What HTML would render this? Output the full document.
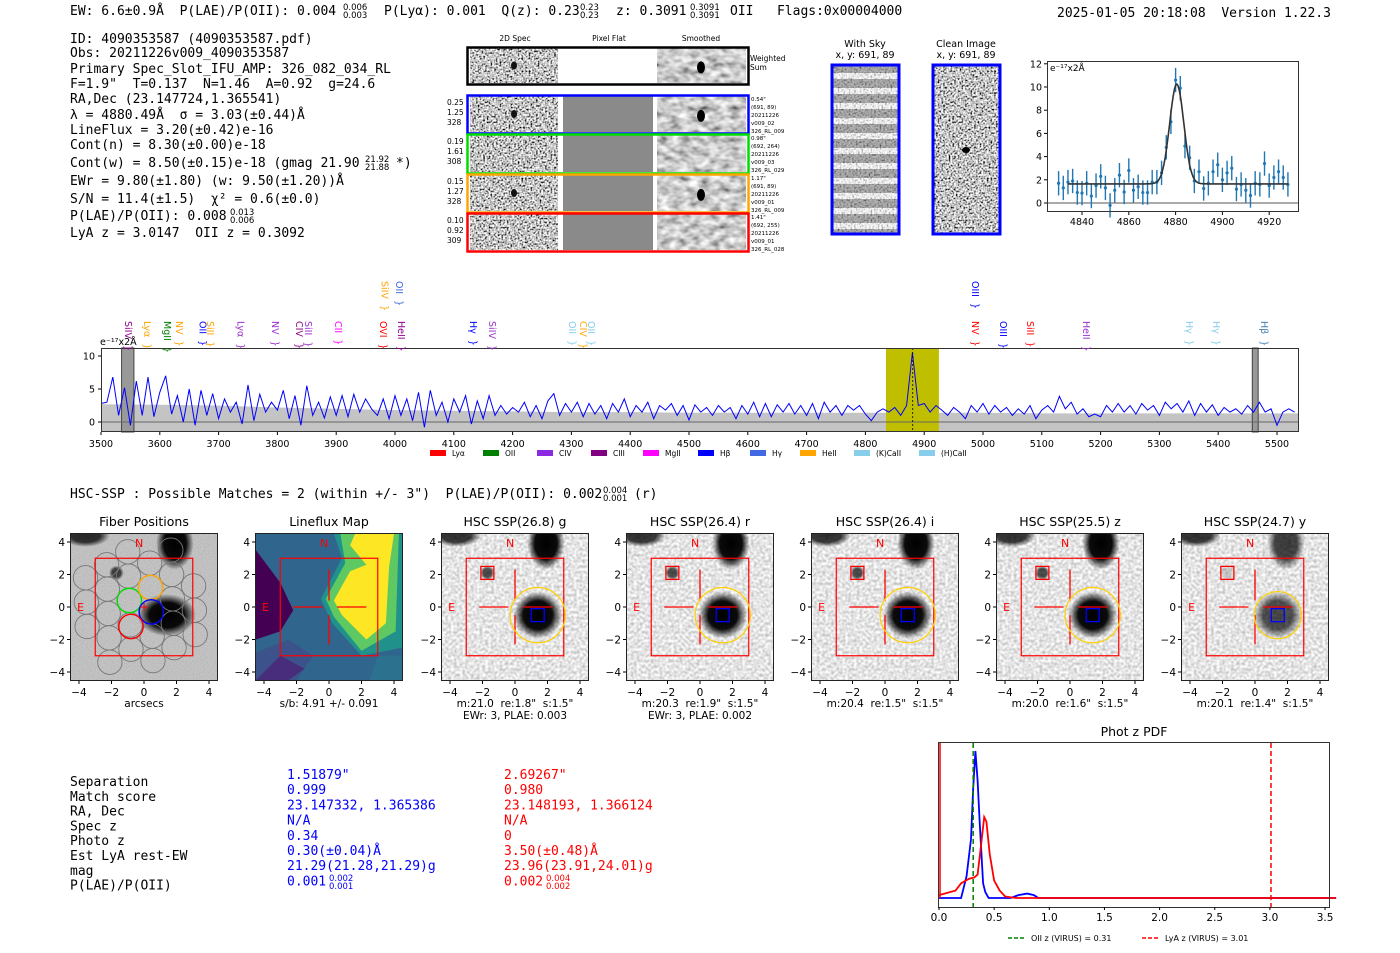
<!DOCTYPE html>
<html><head><meta charset="utf-8"><style>
html,body{margin:0;padding:0;background:#fff;width:1400px;height:953px;overflow:hidden}
svg{display:block}
text{white-space:pre}
.m{font-family:"DejaVu Sans Mono","Liberation Mono",monospace}
.s{font-family:"DejaVu Sans","Liberation Sans",sans-serif}
</style></head><body>
<svg id="root" width="1400" height="953" viewBox="0 0 1400 953" xmlns="http://www.w3.org/2000/svg" xml:space="preserve">
<defs>
<filter id="nz" x="0" y="0" width="100%" height="100%"><feTurbulence type="fractalNoise" baseFrequency="0.55" numOctaves="1" seed="4"/><feColorMatrix type="matrix" values="2.6 0 0 0 -0.75  2.6 0 0 0 -0.75  2.6 0 0 0 -0.75  0 0 0 0 1"/></filter>
<filter id="nzs" x="0" y="0" width="100%" height="100%"><feTurbulence type="fractalNoise" baseFrequency="0.1 0.16" numOctaves="2" seed="7"/><feColorMatrix type="matrix" values="1.3 0 0 0 -0.05  1.3 0 0 0 -0.05  1.3 0 0 0 -0.05  0 0 0 0 1"/></filter>
<filter id="nzl" x="0" y="0" width="100%" height="100%"><feTurbulence type="fractalNoise" baseFrequency="0.35" numOctaves="1" seed="11"/><feColorMatrix type="matrix" values="0.9 0 0 0 0.33  0.9 0 0 0 0.33  0.9 0 0 0 0.33  0 0 0 0 1"/></filter>
<filter id="nzf" x="0" y="0" width="100%" height="100%"><feTurbulence type="fractalNoise" baseFrequency="0.9" numOctaves="1" seed="2"/><feColorMatrix type="matrix" values="0.25 0 0 0 0.4  0.25 0 0 0 0.4  0.25 0 0 0 0.4  0 0 0 0 1"/></filter>
<radialGradient id="blob"><stop offset="0" stop-color="#000"/><stop offset="0.6" stop-color="#000" stop-opacity="0.95"/><stop offset="1" stop-color="#000" stop-opacity="0"/></radialGradient>
<pattern id="stripes" width="10" height="15" patternUnits="userSpaceOnUse"><rect width="10" height="15" fill="#fff"/><rect y="4" width="10" height="9" fill="#444" opacity="0.6"/></pattern>
</defs>
<g id="g"></g>
</svg>
<script>
// ---------------- DATA ----------------
const specWaveStart = 3500;
const specWaveStep = 10;
const specFlux = [2.8,3.0,6.8,1.0,5.2,-0.5,6.2,1.0,6.8,0.8,4.5,7.0,1.2,4.0,0.0,5.0,-0.5,4.8,1.0,4.3,0.5,3.5,1.5,3.0,-0.3,5.6,0.2,4.2,1.5,3.0,1.8,4.8,0.5,4.0,-0.5,5.5,1.0,3.0,0.6,3.8,1.0,4.0,0.8,4.2,1.5,3.5,2.0,1.0,3.5,0.5,4.0,1.0,3.5,0.2,4.5,-0.8,4.8,1.0,3.0,0.0,3.5,1.5,4.0,-0.3,3.2,0.5,4.0,1.0,2.5,1.2,2.2,1.5,3.0,0.8,2.5,0.5,3.2,4.3,1.0,2.8,1.5,3.0,0.8,2.8,1.2,2.5,0.5,2.8,1.5,3.5,0.8,2.5,1.5,3.0,0.5,2.5,1.8,2.8,1.0,2.5,0.3,2.6,1.5,2.2,1.0,2.5,1.5,2.2,0.5,2.5,1.2,3.0,0.8,2.8,0.8,2.6,1.5,2.8,1.2,2.5,1.0,2.8,0.5,3.0,1.5,2.5,1.0,2.5,1.8,2.5,1.2,0.2,1.5,2.0,1.5,2.2,1.0,2.5,10.5,2.5,2.8,1.5,2.5,1.8,1.0,2.2,1.5,0.5,2.5,1.5,2.8,1.2,2.5,1.5,2.2,1.0,2.0,1.2,2.5,0.5,1.8,2.5,1.5,3.9,2.0,3.0,1.2,2.0,0.8,1.2,0.8,2.5,1.5,2.8,1.5,2.5,1.2,2.8,1.8,2.5,1.0,3.0,2.0,2.8,1.5,3.2,1.0,2.8,1.5,2.6,1.0,2.2,1.5,2.0,1.2,2.5,1.5,3.0,1.5,2.0,-0.5,1.5,2.0,1.5];
const errWave = [3500,3600,3700,3800,3900,4000,4100,4200,4300,4400,4500,4600,4700,4800,4900,5000,5100,5200,5300,5400,5500,5537];
const errUpper = [2.7,2.6,2.5,2.2,2.0,1.8,1.7,1.6,1.5,1.5,1.4,1.4,1.4,1.4,1.4,1.4,1.3,1.3,1.3,1.3,1.3,1.3];
const specXTicks = [3500,3600,3700,3800,3900,4000,4100,4200,4300,4400,4500,4600,4700,4800,4900,5000,5100,5200,5300,5400,5500];
const specYTicks = [0,5,10];
const lineLabels = [["SiIV",3546,"#8b008b",0],["Lyα",3578,"#ffa500",0],["MgII",3612,"#008000",0],["NV",3633,"#ffa500",0],["OII",3673,"#0000ff",0],["SiII",3685,"#ffa500",0],["Lyα",3737,"#9932cc",0],["NV",3796,"#9932cc",0],["CIV",3837,"#8b008b",0],["SiII",3852,"#9932cc",0],["CII",3903,"#ff00ff",0],["OVI",3980,"#ff0000",0],["SiIV",3982,"#ffa500",1],["HeII",4010,"#8b008b",0],["OII",4007,"#4169e1",1],["Hγ",4133,"#0000ff",0],["SiIV",4165,"#9932cc",0],["OII",4301,"#87ceeb",0],["CIV",4320,"#ffa500",0],["OII",4333,"#87ceeb",0],["OIII",4986,"#0000ff",1],["NV",4986,"#ff0000",0],["OIII",5034,"#0000ff",0],["SiII",5080,"#ff0000",0],["HeII",5175,"#9932cc",0],["Hγ",5350,"#87ceeb",0],["Hγ",5396,"#87ceeb",0],["Hβ",5478,"#4682b4",0]];
const legendNames = ["Lyα","OII","CIV","CIII","MgII","Hβ","Hγ","HeII","(K)CaII","(H)CaII"];
const legendColors = ["#ff0000","#008000","#8a2be2","#800080","#ff00ff","#0000ff","#4169e1","#ffa500","#87ceeb","#87ceeb"];
const zoomWave = [4830,4832,4834,4836,4838,4840,4842,4844,4846,4848,4850,4852,4854,4856,4858,4860,4862,4864,4866,4868,4870,4872,4874,4876,4878,4880,4882,4884,4886,4888,4890,4892,4894,4896,4898,4900,4902,4904,4906,4908,4910,4912,4914,4916,4918,4920,4922,4924,4926,4928];
const zoomFlux = [1.7,1.3,1.8,1.9,0.9,0.85,1.7,0.6,1.5,2.3,1.3,-0.2,1.1,2.4,0.95,2.8,1.1,1.4,0.9,0.9,1.8,1.8,2.6,4.8,7.0,10.6,9.9,4.9,3.9,1.9,2.7,1.25,1.7,2.7,3.3,2.0,2.6,3.0,1.2,1.6,1.1,0.65,1.7,1.6,3.4,1.5,2.2,2.7,2.2,1.6];
const zoomErr = 1.05;
const fitCont = 1.65, fitAmp = 8.6, fitMu = 4880.49, fitSigma = 3.03;
const zoomXTicks = [4840,4860,4880,4900,4920];
const zoomYTicks = [0,2,4,6,8,10,12];
const pdfZBlue = [0,0.2,0.25,0.29,0.31,0.33,0.35,0.37,0.4,0.42,0.45,0.5,0.65,0.72,0.8,0.86,0.9,3.6];
const pdfPBlue = [0,0,0.15,0.4,0.75,1.0,0.8,0.5,0.1,0.04,0.0,0,0,0.02,0.03,0.02,0,0];
const pdfZRed = [0,0.05,0.15,0.2,0.27,0.32,0.35,0.38,0.41,0.43,0.46,0.5,0.55,0.6,0.7,3.6];
const pdfPRed = [0.02,0.03,0.05,0.1,0.13,0.14,0.16,0.35,0.55,0.52,0.3,0.12,0.05,0.01,0.0,0.0];
const pdfXTicks = [0.0,0.5,1.0,1.5,2.0,2.5,3.0,3.5];
const zOII = 0.31, zLyA = 3.01;

// ---------------- helpers ----------------
const NS="http://www.w3.org/2000/svg";
const G=document.getElementById('g');
function mk(tag,attrs,parent){const e=document.createElementNS(NS,tag);for(const k in attrs)e.setAttribute(k,attrs[k]);(parent||G).appendChild(e);return e;}
function tx(x,y,str,size,cls,fill,anchor,parent){const e=mk('text',{x:x,y:y,'font-size':size,class:cls,fill:fill||'#000','text-anchor':anchor||'start'},parent);e.textContent=str;return e;}
function frac(x,y,hi,lo,size,fill,parent){const a=tx(x,y-5,hi,size,'s',fill,'start',parent);const b=tx(x,y+3,lo,size,'s',fill,'start',parent);}
let el;

// ---------------- header ----------------
el=tx(70,15,"EW: 6.6±0.9Å  P(LAE)/P(OII): 0.004",13,'m');


frac(343,15,"0.006","0.003",8.5);
el=tx(384,15,"P(Lyα): 0.001  Q(z): 0.23",13,'m');


frac(580,15,"0.23","0.23",8.5);
el=tx(616,15,"z: 0.3091",13,'m');


frac(690,15,"0.3091","0.3091",8.5);
el=tx(730,15,"OII   Flags:0x00004000",13,'m');


el=tx(1057,17,"2025-01-05 20:18:08  Version 1.22.3",13,'m');



const infoLines=[["ID: 4090353587 (4090353587.pdf)",43],["Obs: 20211226v009_4090353587",57],["Primary Spec_Slot_IFU_AMP: 326_082_034_RL",73],["F=1.9\"  T=0.137  N=1.46  A=0.92  g=24.6",88],["RA,Dec (23.147724,1.365541)",103],["λ = 4880.49Å  σ = 3.03(±0.44)Å",119],["LineFlux = 3.20(±0.42)e-16",134],["Cont(n) = 8.30(±0.00)e-18",149],["Cont(w) = 8.50(±0.15)e-18 (gmag 21.90",167],["EWr = 9.80(±1.80) (w: 9.50(±1.20))Å",185],["S/N = 11.4(±1.5)  χ² = 0.6(±0.0)",203],["P(LAE)/P(OII): 0.008",220],["LyA z = 3.0147  OII z = 0.3092",237]];
for(const L of infoLines){
 el=tx(70,L[1],L[0],13,'m');
 
 
}
frac(365,167,"21.92","21.88",8.5);
el=tx(396,167,"*)",13,'m');


frac(230,220,"0.013","0.006",8.5);

// ---------------- 2D spectra ----------------
el=mk('g',{});


const P2=el;
[["2D Spec",515],["Pixel Flat",609],["Smoothed",701]].forEach(c=>{el=tx(c[1],41,c[0],7.5,'s','#000','middle',P2);});
const rows=[[47,84,'#000'],[95,133,'#0000ff'],[134,173,'#00dd00'],[174,212,'#ffa500'],[213,251,'#ff0000']];
const rowLeft=[null,["0.25","1.25","328"],["0.19","1.61","308"],["0.15","1.27","328"],["0.10","0.92","309"]];
const rowRight=[null,["0.54\"","(691, 89)","20211226","v009_02","326_RL_009"],["0.98\"","(692, 264)","20211226","v009_03","326_RL_029"],["1.17\"","(691, 89)","20211226","v009_01","326_RL_009"],["1.41\"","(692, 255)","20211226","v009_01","326_RL_028"]];
rows.forEach((r,i)=>{
 const y0=r[0],h=r[1]-r[0];
 el=mk('rect',{x:470,y:y0+1,width:88,height:h-2,filter:'url(#nz)'},P2);
 
 
 el=mk('rect',{x:563,y:y0+1,width:90,height:h-2,fill:i===0?'#fff':'#8a8a8a'},P2);
 
 
 el=mk('rect',{x:657,y:y0+1,width:89,height:h-2,filter:'url(#nzs)'},P2);
 
 
 if(i<2||i===3){
  el=mk('ellipse',{cx:701,cy:y0+h*0.55,rx:4,ry:6,fill:'#000'},P2);
  
  
  el=mk('ellipse',{cx:514,cy:y0+h*0.5,rx:3,ry:4,fill:'#111'},P2);
  
  
 }
 el=mk('rect',{x:467.5,y:y0+0.5,width:281,height:h,fill:'none',stroke:r[2],'stroke-width':2.5},P2);
 
 
 if(rowLeft[i]){rowLeft[i].forEach((t,k)=>{el=tx(447,y0+10+k*10,t,7.5,'s','#000','start',P2);});
  rowRight[i].forEach((t,k)=>{el=tx(751,y0+6+k*8,t,5.5,'s','#000','start',P2);});}
});
el=tx(750,61,"Weighted",7.5,'s','#000','start',P2);


el=tx(750,70,"Sum",7.5,'s','#000','start',P2);



// sky / clean
[[831,"With Sky","stripes"],[932,"Clean Image","clean"]].forEach(s=>{
 el=tx(s[0]+34,47,s[1],9.5,'s','#000','middle');
 
 
 el=tx(s[0]+34,58,"x, y: 691, 89",9.5,'s','#000','middle');
 
 
 if(s[2]==='stripes'){el=mk('rect',{x:s[0],y:65,width:68,height:169,fill:'url(#stripes)'});
  el=mk('rect',{x:s[0],y:65,width:68,height:169,filter:'url(#nz)',opacity:0.35});}
 else {el=mk('rect',{x:s[0],y:65,width:68,height:169,filter:'url(#nz)'});
  el=mk('ellipse',{cx:s[0]+34,cy:150,rx:4,ry:3,fill:'#000'});}
 el=mk('rect',{x:s[0]+1,y:65,width:67,height:169,fill:'none',stroke:'#0000ff','stroke-width':3});
 
 
});

// ---------------- zoom line plot ----------------
const zX=w=>1082+(w-4840)*2.34, zY=v=>203-v*11.6;
el=mk('g',{});


const ZP=el;
el=mk('line',{x1:1047,x2:1299,y1:zY(0),y2:zY(0),stroke:'#555','stroke-width':1},ZP);


zoomWave.forEach((w,i)=>{
 el=mk('line',{x1:zX(w),x2:zX(w),y1:zY(zoomFlux[i]-zoomErr),y2:zY(zoomFlux[i]+zoomErr),stroke:'#1f77b4','stroke-width':1.4},ZP);
 
 
 el=mk('circle',{cx:zX(w),cy:zY(zoomFlux[i]),r:1.6,fill:'#1f77b4'},ZP);
 
 
});
let fp=[];for(let w=4834;w<=4928;w+=0.5){fp.push(zX(w).toFixed(1)+','+zY(fitCont+fitAmp*Math.exp(-0.5*((w-fitMu)/fitSigma)**2)).toFixed(1));}
el=mk('polyline',{points:fp.join(' '),fill:'none',stroke:'#333','stroke-width':1.6},ZP);


el=mk('rect',{x:1047.5,y:61.5,width:251,height:150,fill:'none',stroke:'#333'},ZP);


zoomXTicks.forEach(t=>{el=mk('line',{x1:zX(t),x2:zX(t),y1:212,y2:215,stroke:'#000'},ZP);
 el=tx(zX(t),225,String(t),9.5,'s','#000','middle',ZP);});
zoomYTicks.forEach(t=>{el=mk('line',{x1:1044,x2:1047,y1:zY(t),y2:zY(t),stroke:'#000'},ZP);
 el=tx(1042,zY(t)+3.5,String(t),9.5,'s','#000','end',ZP);});
el=tx(1050,71,"e⁻¹⁷x2Å",9,'s','#000','start',ZP);



// ---------------- full spectrum ----------------
const sX=w=>101+(w-3500)*0.588, sY=v=>422-v*6.6;
el=mk('g',{});


const SP=el;
let ep=errWave.map((w,i)=>sX(w).toFixed(1)+','+sY(errUpper[i]).toFixed(1));
ep.push(sX(5537)+','+sY(-1.5),sX(3500)+','+sY(-1.5));
el=mk('polygon',{points:ep.join(' '),fill:'#c4c4c4'},SP);


el=mk('rect',{x:sX(4835),y:348,width:sX(4925)-sX(4835),height:84,fill:'#bfbf00'},SP);


[[3535,3556],[5458,5468]].forEach(b=>{el=mk('rect',{x:sX(b[0]),y:348,width:sX(b[1])-sX(b[0]),height:84,fill:'#999',stroke:'#444'},SP);});
el=mk('line',{x1:101,x2:1299,y1:sY(0),y2:sY(0),stroke:'#666'},SP);


el=mk('polyline',{points:specFlux.map((v,i)=>sX(specWaveStart+i*specWaveStep).toFixed(1)+','+sY(v).toFixed(1)).join(' '),fill:'none',stroke:'#0000ff','stroke-width':1},SP);


el=mk('line',{x1:sX(4880.5),x2:sX(4880.5),y1:348,y2:432,stroke:'#000','stroke-dasharray':'2,2','stroke-width':0.8},SP);


el=mk('rect',{x:101.5,y:348.5,width:1197,height:83,fill:'none',stroke:'#333'},SP);


specXTicks.forEach(t=>{el=mk('line',{x1:sX(t),x2:sX(t),y1:432,y2:435,stroke:'#000'},SP);
 el=tx(sX(t),447,String(t),9.5,'s','#000','middle',SP);});
specYTicks.forEach(t=>{el=mk('line',{x1:98,x2:101,y1:sY(t),y2:sY(t),stroke:'#000'},SP);
 el=tx(95,sY(t)+3.5,String(t),9.5,'s','#000','end',SP);});
el=tx(100,345,"e⁻¹⁷x2Å",9.5,'s','#000','start',SP);


lineLabels.forEach(L=>{
 const x=sX(L[1]), y0=L[3]?281:321;
 el=tx(0,0,L[0]+"  }",9.5,'s',L[2],'start',SP);
 el.setAttribute('transform','translate('+(x-3)+','+y0+') rotate(90)');
 
 
});
legendNames.forEach((n,i)=>{
 const lx=[430,483,537,591,643,698,750,800,854,919][i];
 el=mk('rect',{x:lx,y:450,width:16,height:6,fill:legendColors[i]},SP);
 
 
 el=tx(lx+22,456,n,7.5,'s','#000','start',SP);
 
 
});

// ---------------- HSC header ----------------
el=tx(70,498,"HSC-SSP : Possible Matches = 2 (within +/- 3\")  P(LAE)/P(OII): 0.002",13,'m');


frac(603,498,"0.004","0.001",8.5);
el=tx(634,498,"(r)",13,'m');



// ---------------- cutouts ----------------
const panels=[["Fiber Positions",70,"arcsecs",""],["Lineflux Map",255,"s/b: 4.91 +/- 0.091",""],["HSC SSP(26.8) g",441,"m:21.0  re:1.8\"  s:1.5\"","EWr: 3, PLAE: 0.003"],["HSC SSP(26.4) r",626,"m:20.3  re:1.9\"  s:1.5\"","EWr: 3, PLAE: 0.002"],["HSC SSP(26.4) i",811,"m:20.4  re:1.5\"  s:1.5\"",""],["HSC SSP(25.5) z",996,"m:20.0  re:1.6\"  s:1.5\"",""],["HSC SSP(24.7) y",1181,"m:20.1  re:1.4\"  s:1.5\"",""]];
const PY=533, PS=148, SC=16.25;
panels.forEach((p,pi)=>{
 const x0=p[1], cx=x0+74, cy=PY+74;
 const X=a=>cx+a*SC, Y=b=>cy-b*SC;
 el=mk('g',{});
 
 
 const pg=el;
 el=mk('clipPath',{id:'cp'+pi},pg);
 mk('rect',{x:x0,y:PY,width:PS,height:PS},el);
 const img=mk('g',{'clip-path':'url(#cp'+pi+')'},pg);
 if(pi===1){
  el=mk('rect',{x:x0,y:PY,width:PS,height:PS,fill:'#30668d'},img);
  
  
  const polys=[["#440154",[[-4.5,3.5],[-3,1.5],[-2.2,-0.2],[-3,-1.5],[-4.5,-2]]],["#3b528b",[[-2.5,-2],[-1,-3],[-2,-4.5],[-4.5,-4.5],[-4.5,-2.8]]],["#472d7b",[[-3,-3],[-1.5,-3.8],[-2.5,-4.5],[-4.5,-4.5]]],["#21918c",[[-0.5,0.5],[0.8,3],[0.3,4.5],[4.5,4.5],[4.5,-2.5],[2,-3],[0.2,-1]]],["#5ec962",[[-0.2,0.5],[1,2.7],[0.7,4.5],[4.3,4.5],[4.1,-1.5],[2,-2.7],[0.3,-0.6]]],["#fde725",[[0.3,0.4],[1.3,2.2],[2.3,2.6],[1.3,3.8],[1.6,4.5],[4,4.5],[3.7,2.5],[3.5,-1],[2.3,-2],[0.8,-0.5]]],["#2c728e",[[2.5,-4.5],[4.5,-4.5],[4.5,-3],[3,-3]]]];
  polys.forEach(pp=>{el=mk('polygon',{points:pp[1].map(q=>X(q[0])+','+Y(q[1])).join(' '),fill:pp[0]},img);});
 } else {
  el=mk('rect',{x:x0,y:PY,width:PS,height:PS,filter:pi===0?'url(#nzf)':'url(#nzl)'},img);
  
  
  const dark=pi===6?0.75:1;
  [[1.9,3.9,1.15,1.6,pi===0?1:dark],[-3.6,4.4,1.5,0.7,0.8],[1.4,-0.5,pi===0?1.8:1.5,pi===0?1.3:1.45,pi===6?0.7:1],[-1.7,2.1,0.45,0.45,pi===6?0.15:0.7]].forEach(b=>{
   el=mk('ellipse',{cx:X(b[0]),cy:Y(b[1]),rx:b[2]*SC,ry:b[3]*SC,fill:'url(#blob)',opacity:b[4]},img);
   
   
  });
 }
 if(pi===0){
  const g=[-0.9,0.4], a=[1.3,0.8], b=[1.35,-0.7];
  for(let i=-3;i<=3;i++)for(let j=-3;j<=3;j++){const px=g[0]+i*a[0]+j*b[0], py=g[1]+i*a[1]+j*b[1]; if(Math.hypot(px,py)<4.1){el=mk('circle',{cx:X(px),cy:Y(py),r:0.75*SC,fill:'none',stroke:'#777','stroke-width':0.9},img);}}
  [[-0.9,0.4,'#00dd00'],[0.4,1.2,'#ffa500'],[0.45,-0.3,'#0000ff'],[-0.8,-1.2,'#ff0000']].forEach(c=>{el=mk('circle',{cx:X(c[0]),cy:Y(c[1]),r:0.75*SC,fill:'none',stroke:c[2],'stroke-width':1.4},img);});
  el=tx(X(0),Y(0)+4,"+",12,'s','#ff0000','middle',img);
  
  
 }
 el=mk('rect',{x:X(-3),y:Y(3),width:6*SC,height:6*SC,fill:'none',stroke:'#ff0000','stroke-width':1.2},img);
 
 
 if(pi>=1){
  [[-2.2,0,-0.4,0],[0.5,0,2.3,0],[0,2.3,0,0.4],[0,-0.5,0,-2.3]].forEach(l=>{el=mk('line',{x1:X(l[0]),y1:Y(l[1]),x2:X(l[2]),y2:Y(l[3]),stroke:'#ff0000','stroke-width':1.3},img);});
 }
 if(pi>=2){
  el=mk('circle',{cx:X(1.4),cy:Y(-0.5),r:(pi===6?1.45:1.7)*SC,fill:'none',stroke:'#ffd000','stroke-width':1.2},img);
  
  
  el=mk('rect',{x:X(1),y:Y(-0.1),width:0.8*SC,height:0.8*SC,fill:'none',stroke:'#0000ff','stroke-width':1.3},img);
  
  
  el=mk('rect',{x:X(-2.1),y:Y(2.5),width:0.8*SC,height:0.8*SC,fill:'none',stroke:'#ff0000','stroke-width':1.3},img);
  
  
 }
 el=tx(X(-0.3),Y(3.7),"N",11,'s','#ff0000','middle',img);
 
 
 el=tx(X(-3.9),Y(0)+4,"E",11,'s','#ff0000','middle',img);
 
 
 el=mk('rect',{x:x0+0.5,y:PY+0.5,width:PS-1,height:PS-1,fill:'none',stroke:'#222'},pg);
 
 
 el=tx(cx,526,p[0],12.5,'s','#000','middle',pg);
 
 
 [-4,-2,0,2,4].forEach(t=>{
  el=mk('line',{x1:X(t),x2:X(t),y1:PY+PS,y2:PY+PS+3,stroke:'#000'},pg);
  el=tx(X(t),696,t<0?'−'+(-t):String(t),10.5,'s','#000','middle',pg);
  el=mk('line',{x1:x0-3,x2:x0,y1:Y(t),y2:Y(t),stroke:'#000'},pg);
  el=tx(x0-5,Y(t)+4,t<0?'−'+(-t):String(t),10.5,'s','#000','end',pg);
 });
 el=tx(cx,707,p[2],10.5,'s','#000','middle',pg);
 
 
 if(p[3]){el=tx(cx,719,p[3],10.5,'s','#000','middle',pg);}
});

// ---------------- match table ----------------
const tLabels=["Separation","Match score","RA, Dec","Spec z","Photo z","Est LyA rest-EW","mag","P(LAE)/P(OII)"];
const tBlue=["1.51879\"","0.999","23.147332, 1.365386","N/A","0.34","0.30(±0.04)Å","21.29(21.28,21.29)g","0.001"];
const tRed=["2.69267\"","0.980","23.148193, 1.366124","N/A","0","3.50(±0.48)Å","23.96(23.91,24.01)g","0.002"];
tLabels.forEach((l,i)=>{el=tx(70,786+i*14.8,l,13,'m');});
tBlue.forEach((l,i)=>{el=tx(287,779+i*15.2,l,13,'m','#0000ff');});
tRed.forEach((l,i)=>{el=tx(504,779+i*15.2,l,13,'m','#ff0000');});
frac(329,886,"0.002","0.001",8.5,'#0000ff');
frac(546,886,"0.004","0.002",8.5,'#ff0000');

// ---------------- phot z pdf ----------------
const pX=z=>939+z*110.3, pY=p=>898-p*147;
el=mk('g',{});


const PP=el;
el=tx(1134,736,"Phot z PDF",12.5,'s','#000','middle',PP);


el=mk('polyline',{points:pdfZBlue.map((z,i)=>pX(z).toFixed(1)+','+pY(pdfPBlue[i]).toFixed(1)).join(' '),fill:'none',stroke:'#0000ff','stroke-width':1.8},PP);


el=mk('polyline',{points:pdfZRed.map((z,i)=>pX(z).toFixed(1)+','+pY(pdfPRed[i]).toFixed(1)).join(' '),fill:'none',stroke:'#ff0000','stroke-width':1.8},PP);


el=mk('line',{x1:pX(0)+1,x2:pX(0)+1,y1:743,y2:pY(0),stroke:'#ff0000','stroke-width':1.5},PP);


el=mk('line',{x1:pX(zOII),x2:pX(zOII),y1:743,y2:907,stroke:'#008000','stroke-width':1.5,'stroke-dasharray':'5,3'},PP);


el=mk('line',{x1:pX(zLyA),x2:pX(zLyA),y1:743,y2:907,stroke:'#ff0000','stroke-width':1.5,'stroke-dasharray':'5,3'},PP);


el=mk('rect',{x:938.5,y:742.5,width:391,height:165,fill:'none',stroke:'#333'},PP);


pdfXTicks.forEach(t=>{el=mk('line',{x1:pX(t),x2:pX(t),y1:907,y2:910,stroke:'#000'},PP);
 el=tx(pX(t),921,t.toFixed(1),10.5,'s','#000','middle',PP);});
el=mk('line',{x1:1008,x2:1024,y1:938,y2:938,stroke:'#008000','stroke-width':1.5,'stroke-dasharray':'4,2'},PP);


el=tx(1031,941,"OII z (VIRUS) = 0.31",8,'s','#000','start',PP);


el=mk('line',{x1:1142,x2:1158,y1:938,y2:938,stroke:'#ff0000','stroke-width':1.5,'stroke-dasharray':'4,2'},PP);


el=tx(1165,941,"LyA z (VIRUS) = 3.01",8,'s','#000','start',PP);


</script>
</body></html>
